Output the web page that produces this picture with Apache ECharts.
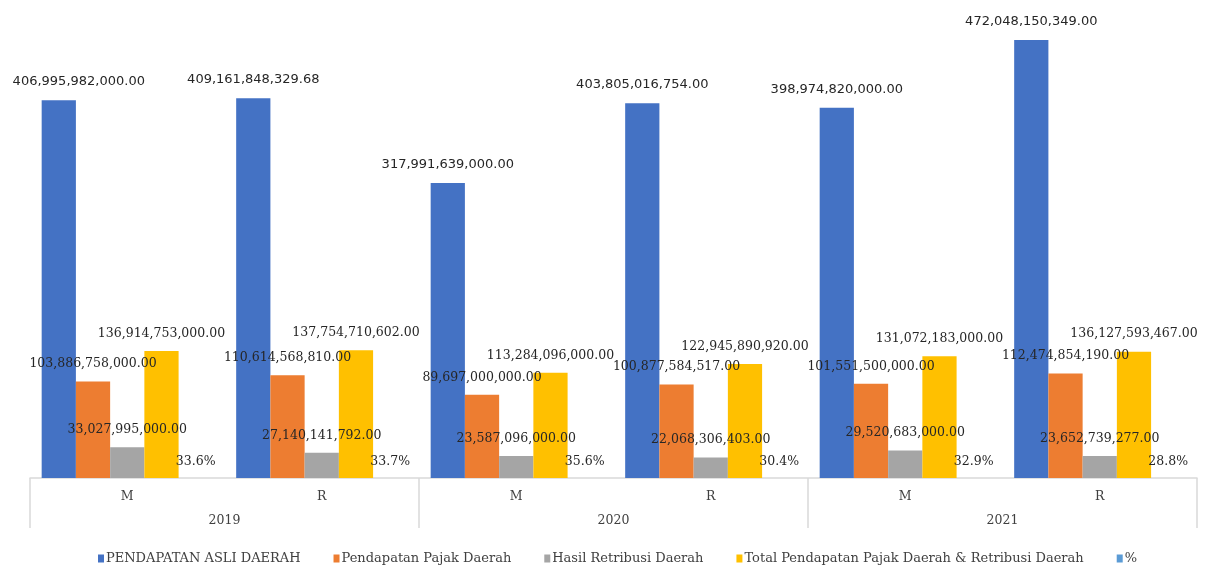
<!DOCTYPE html>
<html>
<head>
<meta charset="utf-8">
<script src="https://cdn.jsdelivr.net/npm/echarts@6/dist/echarts.min.js"></script>
<style>
  html, body { margin: 0; padding: 0; background: #ffffff; }
  #chart { width: 1216px; height: 565px; }
</style>
</head>
<body>
<div id="chart"></div>
<script>
// Periods: budget (M) and realisation (R) per year
const periods = ['M', 'R', 'M', 'R', 'M', 'R'];
const years = ['2019', '2020', '2021'];

const seriesNames = [
  'PENDAPATAN ASLI DAERAH',
  'Pendapatan Pajak Daerah',
  'Hasil Retribusi Daerah',
  'Total Pendapatan Pajak Daerah & Retribusi Daerah',
  '%'
];

const pendapatanAsliDaerah = [406995982000.00, 409161848329.68, 317991639000.00, 403805016754.00, 398974820000.00, 472048150349.00];
const pajakDaerah = [103886758000.00, 110614568810.00, 89697000000.00, 100877584517.00, 101551500000.00, 112474854190.00];
const retribusiDaerah = [33027995000.00, 27140141792.00, 23587096000.00, 22068306403.00, 29520683000.00, 23652739277.00];
const totalPajakRetribusi = [136914753000.00, 137754710602.00, 113284096000.00, 122945890920.00, 131072183000.00, 136127593467.00];
const persen = [33.6, 33.7, 35.6, 30.4, 32.9, 28.8];

const colors = ['#4472C4', '#ED7D31', '#A5A5A5', '#FFC000', '#5B9BD5'];

const fmtMoney = v => Number(v).toLocaleString('en-US', { minimumFractionDigits: 2, maximumFractionDigits: 2 });
const fmtPct = v => Number(v).toFixed(1) + '%';

const sansLabel = {
  show: true,
  position: 'top',
  distance: 12,
  fontFamily: 'DejaVu Sans',
  fontSize: 13,
  color: '#262626'
};
const serifLabel = Object.assign({}, sansLabel, { fontFamily: 'DejaVu Serif', fontSize: 12.5, distance: 11 });

function moneySeries(name, values, color, baseLabel, firstOffset) {
  return {
    name: name,
    type: 'bar',
    barGap: '0%',
    barCategoryGap: '12%',
    itemStyle: { color: color },
    label: Object.assign({}, baseLabel, { formatter: p => fmtMoney(p.value) }),
    data: values.map((v, i) => (i === 0 && firstOffset)
      ? { value: v, label: { offset: firstOffset } }
      : v)
  };
}

const chart = echarts.init(document.getElementById('chart'), null, { renderer: 'canvas' });

chart.setOption({
  animation: false,
  backgroundColor: '#ffffff',
  color: colors,
  grid: { left: 30, right: 19, top: 14, bottom: 87, containLabel: false },
  legend: {
    top: 547,
    left: 93,
    itemWidth: 6,
    itemHeight: 8,
    itemGap: 33,
    icon: 'rect',
    textStyle: { fontFamily: 'DejaVu Serif', fontSize: 13, color: '#404040', padding: [0, 0, 0, -3] },
    data: seriesNames
  },
  xAxis: [
    {
      type: 'category',
      data: periods,
      axisLine: { show: true, lineStyle: { color: '#d9d9d9', width: 1.5 } },
      axisTick: { show: false },
      axisLabel: { margin: 12, fontFamily: 'DejaVu Serif', fontSize: 12.5, color: '#404040' }
    },
    {
      type: 'category',
      data: years,
      position: 'bottom',
      offset: 0,
      axisLine: { show: false },
      axisTick: { show: true, interval: 0, length: 50, lineStyle: { color: '#d9d9d9', width: 1.5 } },
      axisLabel: { margin: 36, fontFamily: 'DejaVu Serif', fontSize: 12.5, color: '#404040' }
    }
  ],
  yAxis: {
    type: 'value',
    min: 0,
    max: 500000000000,
    show: false,
    splitLine: { show: false }
  },
  series: [
    moneySeries(seriesNames[0], pendapatanAsliDaerah, colors[0], sansLabel, [20, 0]),
    moneySeries(seriesNames[1], pajakDaerah, colors[1], serifLabel),
    moneySeries(seriesNames[2], retribusiDaerah, colors[2], serifLabel),
    moneySeries(seriesNames[3], totalPajakRetribusi, colors[3], serifLabel),
    {
      name: seriesNames[4],
      type: 'bar',
      barGap: '0%',
      barCategoryGap: '12%',
      itemStyle: { color: colors[4] },
      label: Object.assign({}, serifLabel, { distance: 10, formatter: p => fmtPct(p.value) }),
      data: persen
    }
  ]
});
</script>
</body>
</html>
